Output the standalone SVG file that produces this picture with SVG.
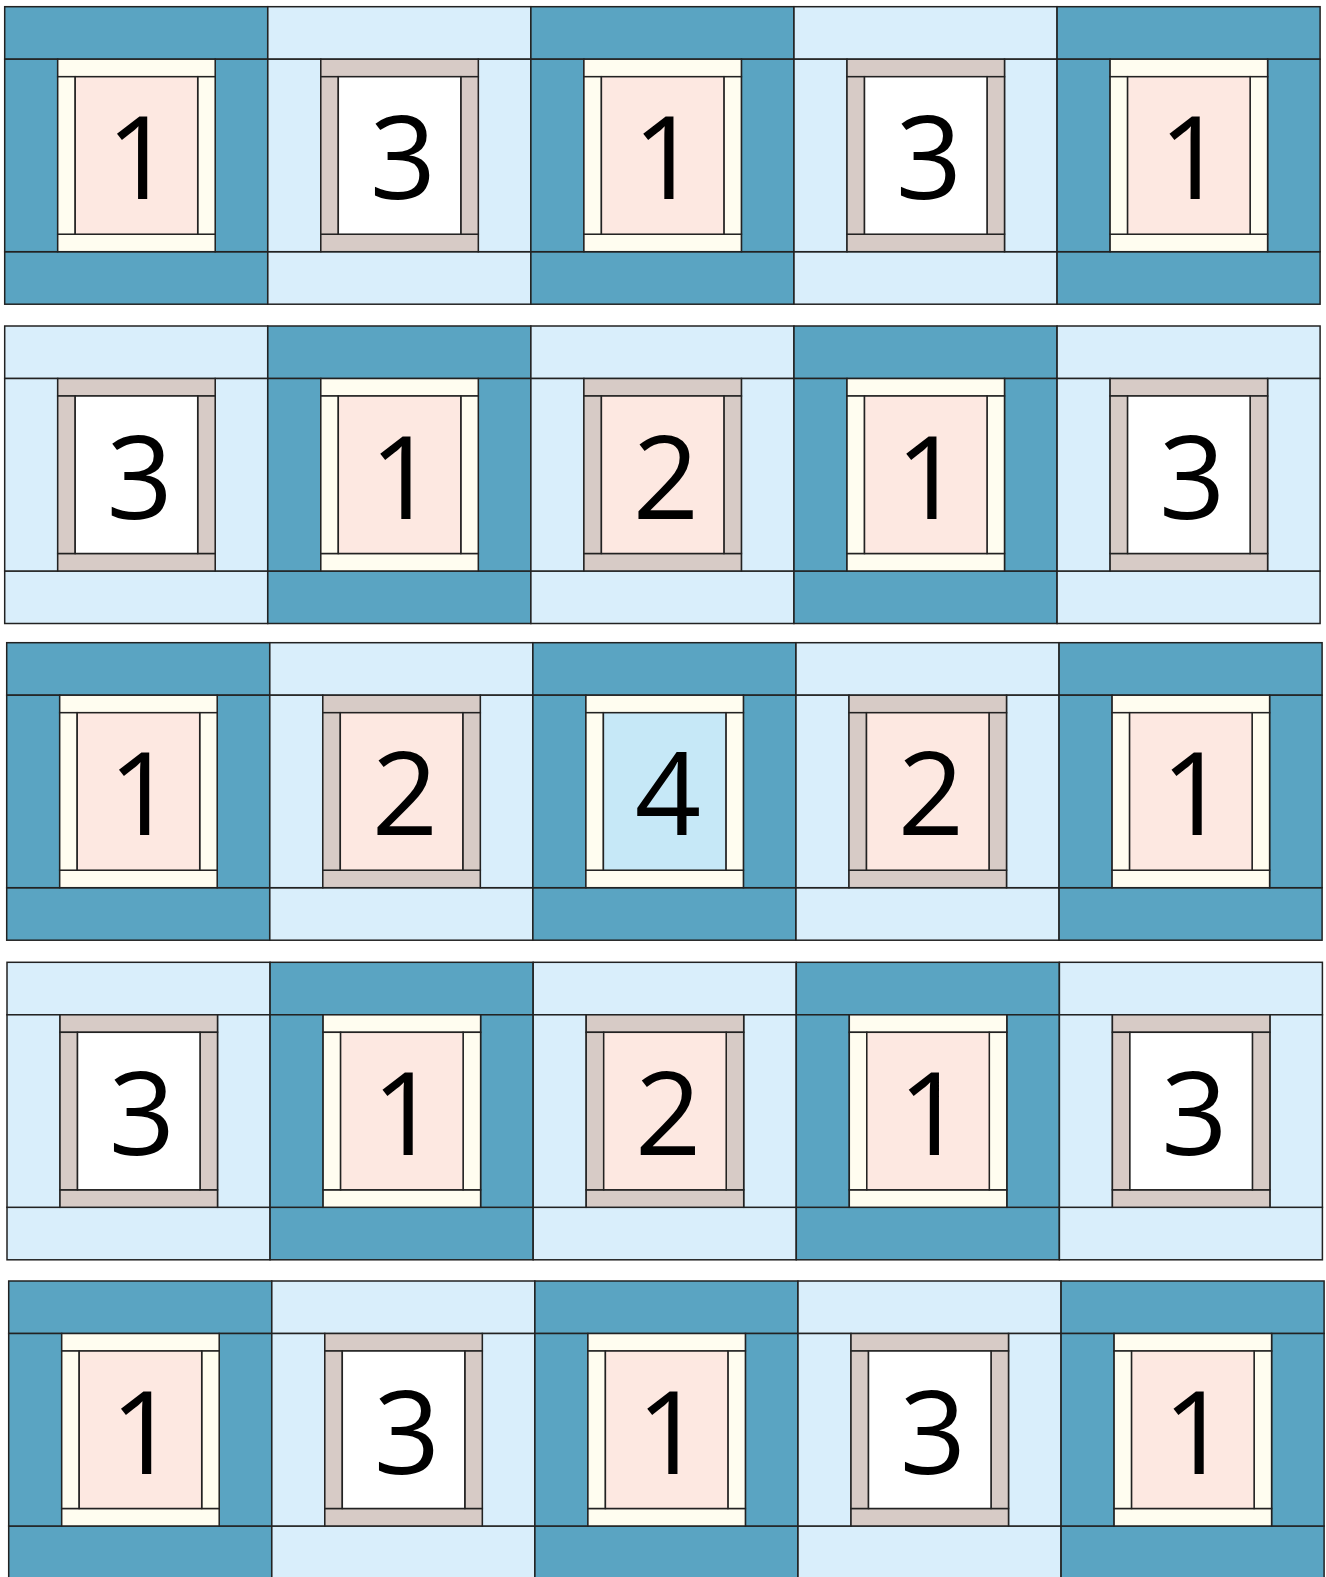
<svg xmlns="http://www.w3.org/2000/svg" xmlns:xlink="http://www.w3.org/1999/xlink" width="1326" height="1577" viewBox="0 0 1326 1577">
<style>
rect{stroke:#222;stroke-width:1.5}
.dk{fill:#5aa4c2}
.lt{fill:#d9eefb}
.cr{fill:#fffdf0}
.tp{fill:#d7cbc6}
.pk{fill:#fde8e1}
.wh{fill:#ffffff}
.bl{fill:#c6e8f7}
text{font-family:"Open Sans","Noto Sans","Liberation Sans",sans-serif;font-size:116px;fill:#000;text-anchor:middle}
</style>
<defs>
<g id="outerA">
<rect class="dk" x="0" y="0" width="263" height="52.5"/>
<rect class="dk" x="0" y="245" width="263" height="52.5"/>
<rect class="dk" x="0" y="52.5" width="53" height="192.5"/>
<rect class="dk" x="210.5" y="52.5" width="52.5" height="192.5"/>
<rect class="cr" x="53" y="52.5" width="157.5" height="17.5"/>
<rect class="cr" x="53" y="227.5" width="157.5" height="17.5"/>
<rect class="cr" x="53" y="70" width="17.5" height="157.5"/>
<rect class="cr" x="193" y="70" width="17.5" height="157.5"/>
</g>
<g id="outerB">
<rect class="lt" x="0" y="0" width="263" height="52.5"/>
<rect class="lt" x="0" y="245" width="263" height="52.5"/>
<rect class="lt" x="0" y="52.5" width="53" height="192.5"/>
<rect class="lt" x="210.5" y="52.5" width="52.5" height="192.5"/>
<rect class="tp" x="53" y="52.5" width="157.5" height="17.5"/>
<rect class="tp" x="53" y="227.5" width="157.5" height="17.5"/>
<rect class="tp" x="53" y="70" width="17.5" height="157.5"/>
<rect class="tp" x="193" y="70" width="17.5" height="157.5"/>
</g>
<rect id="cPink" class="pk" x="70.5" y="70" width="122.5" height="157.5"/>
<rect id="cWhite" class="wh" x="70.5" y="70" width="122.5" height="157.5"/>
<rect id="cBlue" class="bl" x="70.5" y="70" width="122.5" height="157.5"/>
</defs>

<!-- Row 1 -->
<g id="r1c1" transform="translate(4.7,6.7)"><use href="#outerA"/><use href="#cPink"/><text x="135" y="192.5">1</text></g>
<g id="r1c2" transform="translate(267.8,6.7)"><use href="#outerB"/><use href="#cWhite"/><text x="135" y="192.5">3</text></g>
<g id="r1c3" transform="translate(530.9,6.7)"><use href="#outerA"/><use href="#cPink"/><text x="135" y="192.5">1</text></g>
<g id="r1c4" transform="translate(794,6.7)"><use href="#outerB"/><use href="#cWhite"/><text x="135" y="192.5">3</text></g>
<g id="r1c5" transform="translate(1057.1,6.7)"><use href="#outerA"/><use href="#cPink"/><text x="135" y="192.5">1</text></g>

<!-- Row 2 -->
<g id="r2c1" transform="translate(4.7,326)"><use href="#outerB"/><use href="#cWhite"/><text x="135" y="192.5">3</text></g>
<g id="r2c2" transform="translate(267.8,326)"><use href="#outerA"/><use href="#cPink"/><text x="135" y="192.5">1</text></g>
<g id="r2c3" transform="translate(530.9,326)"><use href="#outerB"/><use href="#cPink"/><text x="135" y="192.5">2</text></g>
<g id="r2c4" transform="translate(794,326)"><use href="#outerA"/><use href="#cPink"/><text x="135" y="192.5">1</text></g>
<g id="r2c5" transform="translate(1057.1,326)"><use href="#outerB"/><use href="#cWhite"/><text x="135" y="192.5">3</text></g>

<!-- Row 3 -->
<g id="r3c1" transform="translate(6.7,642.7)"><use href="#outerA"/><use href="#cPink"/><text x="135" y="192.5">1</text></g>
<g id="r3c2" transform="translate(269.8,642.7)"><use href="#outerB"/><use href="#cPink"/><text x="135" y="192.5">2</text></g>
<g id="r3c3" transform="translate(532.9,642.7)"><use href="#outerA"/><use href="#cBlue"/><text x="135" y="192.5">4</text></g>
<g id="r3c4" transform="translate(796,642.7)"><use href="#outerB"/><use href="#cPink"/><text x="135" y="192.5">2</text></g>
<g id="r3c5" transform="translate(1059.1,642.7)"><use href="#outerA"/><use href="#cPink"/><text x="135" y="192.5">1</text></g>

<!-- Row 4 -->
<g id="r4c1" transform="translate(7,962.3)"><use href="#outerB"/><use href="#cWhite"/><text x="135" y="192.5">3</text></g>
<g id="r4c2" transform="translate(270.1,962.3)"><use href="#outerA"/><use href="#cPink"/><text x="135" y="192.5">1</text></g>
<g id="r4c3" transform="translate(533.2,962.3)"><use href="#outerB"/><use href="#cPink"/><text x="135" y="192.5">2</text></g>
<g id="r4c4" transform="translate(796.3,962.3)"><use href="#outerA"/><use href="#cPink"/><text x="135" y="192.5">1</text></g>
<g id="r4c5" transform="translate(1059.4,962.3)"><use href="#outerB"/><use href="#cWhite"/><text x="135" y="192.5">3</text></g>

<!-- Row 5 -->
<g id="r5c1" transform="translate(8.7,1281)"><use href="#outerA"/><use href="#cPink"/><text x="135" y="192.5">1</text></g>
<g id="r5c2" transform="translate(271.8,1281)"><use href="#outerB"/><use href="#cWhite"/><text x="135" y="192.5">3</text></g>
<g id="r5c3" transform="translate(534.9,1281)"><use href="#outerA"/><use href="#cPink"/><text x="135" y="192.5">1</text></g>
<g id="r5c4" transform="translate(798,1281)"><use href="#outerB"/><use href="#cWhite"/><text x="135" y="192.5">3</text></g>
<g id="r5c5" transform="translate(1061.1,1281)"><use href="#outerA"/><use href="#cPink"/><text x="135" y="192.5">1</text></g>

<g id="connectors"></g>
</svg>
